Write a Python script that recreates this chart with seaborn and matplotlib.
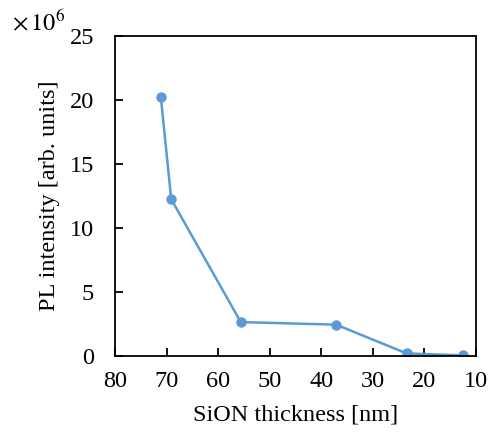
import numpy as np
import pandas as pd
import matplotlib
matplotlib.use("Agg")
import matplotlib.pyplot as plt
import seaborn as sns

sns.set_style("ticks")
plt.rcParams['font.family'] = ['Liberation Serif', 'DejaVu Serif']
plt.rcParams['mathtext.fontset'] = 'stix'
plt.rcParams['text.color'] = 'black'
plt.rcParams['axes.labelcolor'] = 'black'
plt.rcParams['xtick.color'] = 'black'
plt.rcParams['ytick.color'] = 'black'

# data
thickness = [71.1, 69.1, 55.6, 37.1, 23.4, 12.5]   # nm
intensity = [20.2, 12.25, 2.65, 2.45, 0.2, 0.05]   # x1e6 arb. units
xticks = [80, 70, 60, 50, 40, 30, 20, 10]
yticks = [0, 5, 10, 15, 20, 25]

df = pd.DataFrame({"thickness": thickness, "intensity": intensity})

fig = plt.figure(figsize=(4.88, 4.34), dpi=100)
ax = fig.add_axes([0.2357, 0.1797, 0.7393, 0.7373])

sns.lineplot(data=df, x="thickness", y="intensity", ax=ax, sort=False,
             color="#5B9BD5", linewidth=1.8, marker="o", markersize=7.5,
             markeredgewidth=0)

ax.set_xlim(80, 10)
ax.set_ylim(0, 25)
ax.set_xticks(xticks)
ax.set_yticks(yticks)
ax.tick_params(direction="in", length=6, width=1.3, labelsize=17.5, color="black")
ax.tick_params(axis="x", pad=11)
ax.tick_params(axis="y", pad=15)
for s in ax.spines.values():
    s.set_linewidth(1.3)
    s.set_color("black")

ax.set_xlabel("SiON thickness [nm]", fontsize=17.5, labelpad=9)
ax.set_ylabel("PL intensity [arb. units]", fontsize=17.5, labelpad=7)

fig.text(0.025, 0.948, r"$\times\,10^{6}$", fontsize=17.5, ha="left", va="center")

fig.savefig("out.png", dpi=100)
